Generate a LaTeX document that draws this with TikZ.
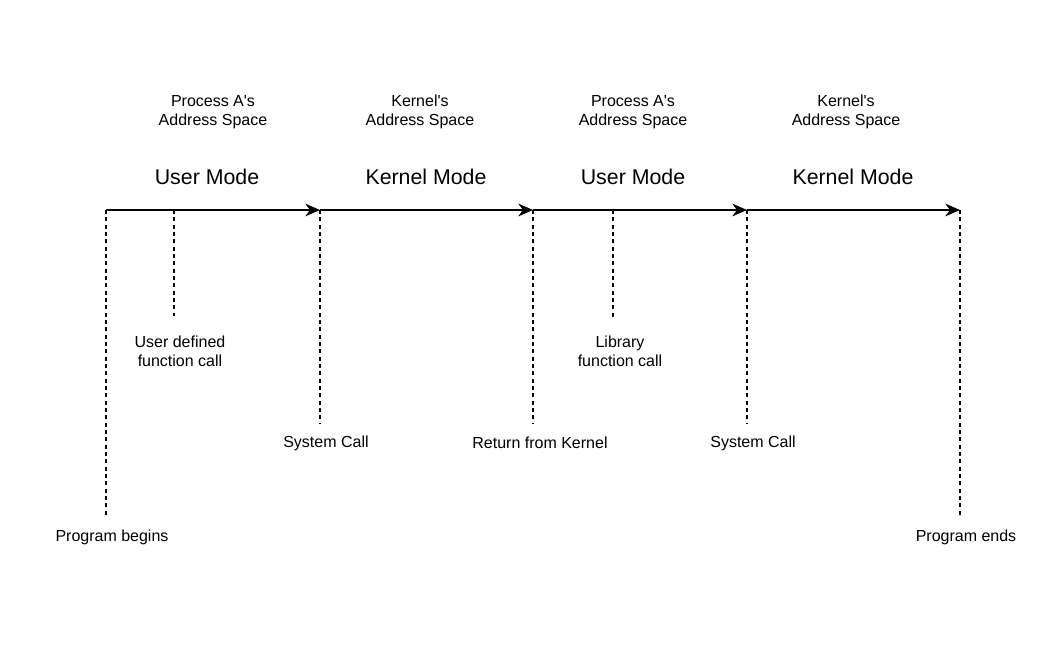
\documentclass[tikz,border=0pt]{standalone}
\usepackage{fontspec}
\setmainfont{Liberation Sans}[Ligatures=TeXOff]
\usetikzlibrary{arrows.meta,positioning}
\tikzset{
  timearrow/.style={-{Stealth[length=11pt,width=9.5pt,inset=3.5pt]},line width=1.6pt},
  guideline/.style={dash pattern=on 3pt off 2.5pt,line width=0.8pt},
  smalllabel/.style={font=\fontsize{12}{14.3}\selectfont,align=center,inner sep=0pt},
  modelabel/.style={font=\fontsize{16}{19}\selectfont,inner sep=0pt}
}

\begin{document}
\begin{tikzpicture}[x=0.75pt,y=-0.75pt]
  \useasboundingbox (0,0) rectangle (1064,666);
  % points on the time line
  \coordinate (t0) at (106,210);
  \coordinate (t1) at (320,210);
  \coordinate (t2) at (533,210);
  \coordinate (t3) at (747,210);
  \coordinate (t4) at (960,210);
  \coordinate (f1) at (174,210);
  \coordinate (f2) at (613,210);
  % ends of the dashed guides
  \coordinate (e0) at (106,517);
  \coordinate (e1) at (320,424);
  \coordinate (e2) at (533,424);
  \coordinate (e3) at (747,424);
  \coordinate (e4) at (960,517);
  \coordinate (g1) at (174,316);
  \coordinate (g2) at (613,317);

  \draw[timearrow] (t0) -- (t1);
  \draw[timearrow] (t1) -- (t2);
  \draw[timearrow] (t2) -- (t3);
  \draw[timearrow] (t3) -- (t4);

  \draw[guideline] (t0) -- (e0);
  \draw[guideline] (f1) -- (g1);
  \draw[guideline] (t1) -- (e1);
  \draw[guideline] (t2) -- (e2);
  \draw[guideline] (f2) -- (g2);
  \draw[guideline] (t3) -- (e3);
  \draw[guideline] (t4) -- (e4);

  % address spaces and modes
  \node[smalllabel] (space1) at (213,112) {Process A's\\Address Space};
  \node[smalllabel] (space2) at (420,112) {Kernel's\\Address Space};
  \node[smalllabel] (space3) at (633,112) {Process A's\\Address Space};
  \node[smalllabel] (space4) at (846,112) {Kernel's\\Address Space};
  \node[modelabel] (mode1) at (207,177) {User Mode};
  \node[modelabel] (mode2) at (426,177) {Kernel Mode};
  \node[modelabel] (mode3) at (633,177) {User Mode};
  \node[modelabel] (mode4) at (853,177) {Kernel Mode};

  % events
  \node[smalllabel] (begin) at (112,537) {Program begins};
  \node[smalllabel] (ucall) at (180,351) {User defined\\function call};
  \node[smalllabel] (sys1) at (326,443) {System Call};
  \node[smalllabel] (ret) at (540,443) {Return from Kernel};
  \node[smalllabel] (lcall) at (620,351) {Library\\function call};
  \node[smalllabel] (sys2) at (753,443) {System Call};
  \node[smalllabel] (finish) at (966,537) {Program ends};
\end{tikzpicture}
\end{document}
